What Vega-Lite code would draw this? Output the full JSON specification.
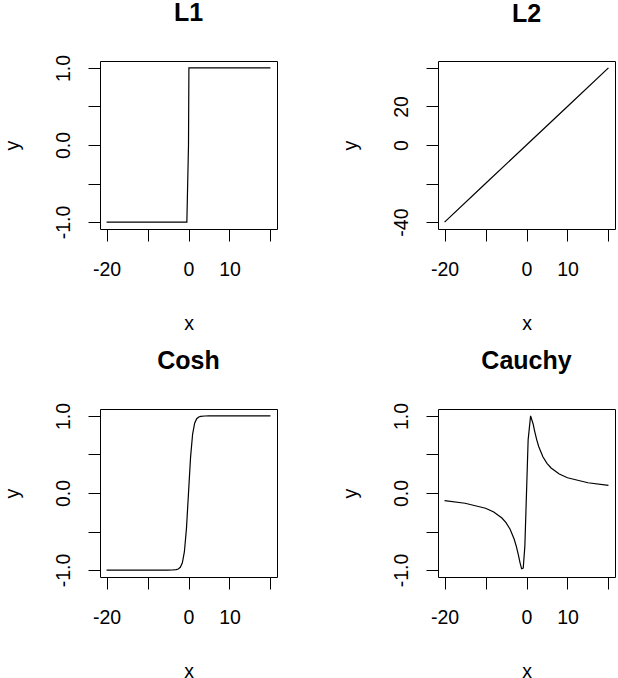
{
  "$schema": "https://vega.github.io/schema/vega-lite/v6.json",
  "padding": {"left": 1, "top": 0, "right": 0, "bottom": 0},
  "background": "white",
  "datasets": {
    "L1": [
      {"x": -20, "y": -1}, {"x": -0.4, "y": -1}, {"x": 0, "y": 0}, {"x": 0.1, "y": 1}, {"x": 20, "y": 1}
    ],
    "L2": [
      {"x": -20, "y": -40}, {"x": -10, "y": -20}, {"x": 0, "y": 0}, {"x": 10, "y": 20}, {"x": 20, "y": 40}
    ],
    "Cosh": [
      {"x": -20, "y": -1}, {"x": -10, "y": -1}, {"x": -5, "y": -0.9999}, {"x": -4, "y": -0.9993},
      {"x": -3, "y": -0.9951}, {"x": -2.5, "y": -0.9866}, {"x": -2, "y": -0.964}, {"x": -1.5, "y": -0.9051},
      {"x": -1, "y": -0.7616}, {"x": -0.5, "y": -0.4621}, {"x": 0, "y": 0}, {"x": 0.5, "y": 0.4621},
      {"x": 1, "y": 0.7616}, {"x": 1.5, "y": 0.9051}, {"x": 2, "y": 0.964}, {"x": 2.5, "y": 0.9866},
      {"x": 3, "y": 0.9951}, {"x": 4, "y": 0.9993}, {"x": 5, "y": 0.9999}, {"x": 10, "y": 1}, {"x": 20, "y": 1}
    ],
    "Cauchy": [
      {"x": -20, "y": -0.0998}, {"x": -15, "y": -0.1327}, {"x": -10, "y": -0.198}, {"x": -8, "y": -0.2462},
      {"x": -6, "y": -0.3243}, {"x": -5, "y": -0.3846}, {"x": -4, "y": -0.4706}, {"x": -3, "y": -0.6},
      {"x": -2.5, "y": -0.6897}, {"x": -2, "y": -0.8}, {"x": -1.6, "y": -0.8989}, {"x": -1.2, "y": -0.9836},
      {"x": -0.8, "y": -0.9756}, {"x": -0.4, "y": -0.6897}, {"x": 0, "y": 0}, {"x": 0.4, "y": 0.6897},
      {"x": 1, "y": 1}, {"x": 1.6, "y": 0.8989}, {"x": 2, "y": 0.8}, {"x": 2.5, "y": 0.6897},
      {"x": 3, "y": 0.6}, {"x": 4, "y": 0.4706}, {"x": 5, "y": 0.3846}, {"x": 6, "y": 0.3243},
      {"x": 8, "y": 0.2462}, {"x": 10, "y": 0.198}, {"x": 15, "y": 0.1327}, {"x": 20, "y": 0.0998}
    ]
  },
  "columns": 2,
  "spacing": {"row": 180, "column": 161},
  "bounds": "flush",
  "concat": [
    {
      "title": {"text": "L1", "offset": 28.2},
      "width": 177, "height": 168,
      "data": {"name": "L1"},
      "mark": {"type": "line", "color": "black", "strokeWidth": 1.2},
      "encoding": {
        "x": {"field": "x", "type": "quantitative", "scale": {"domain": [-21.6, 21.6], "nice": false, "zero": false},
          "axis": {"title": "x", "values": [-20, -10, 0, 10, 20], "titleX": 88.5, "titleY": 100,
            "labelExpr": "datum.value == -20 ? '-20' : datum.value == 0 ? '0' : datum.value == 10 ? '10' : ''"}},
        "y": {"field": "y", "type": "quantitative", "scale": {"domain": [-1.09, 1.09], "nice": false, "zero": false},
          "axis": {"title": "y", "values": [-1, -0.5, 0, 0.5, 1], "titleX": -82, "titleY": 84,
            "labelExpr": "datum.value == 1 ? '1.0' : datum.value == 0 ? '0.0' : datum.value == -1 ? '-1.0' : ''"}}
      }
    },
    {
      "title": {"text": "L2", "offset": 34.2},
      "width": 177, "height": 168,
      "data": {"name": "L2"},
      "mark": {"type": "line", "color": "black", "strokeWidth": 1.2},
      "encoding": {
        "x": {"field": "x", "type": "quantitative", "scale": {"domain": [-21.6, 21.6], "nice": false, "zero": false},
          "axis": {"title": "x", "values": [-20, -10, 0, 10, 20], "titleX": 88.5, "titleY": 100,
            "labelExpr": "datum.value == -20 ? '-20' : datum.value == 0 ? '0' : datum.value == 10 ? '10' : ''"}},
        "y": {"field": "y", "type": "quantitative", "scale": {"domain": [-43.6, 43.6], "nice": false, "zero": false},
          "axis": {"title": "y", "values": [-40, -20, 0, 20, 40], "titleX": -82, "titleY": 84,
            "labelExpr": "datum.value == 20 ? '20' : datum.value == 0 ? '0' : datum.value == -40 ? '-40' : ''"}}
      }
    },
    {
      "title": {"text": "Cosh", "offset": 28.2},
      "width": 177, "height": 168,
      "data": {"name": "Cosh"},
      "mark": {"type": "line", "color": "black", "strokeWidth": 1.2},
      "encoding": {
        "x": {"field": "x", "type": "quantitative", "scale": {"domain": [-21.6, 21.6], "nice": false, "zero": false},
          "axis": {"title": "x", "values": [-20, -10, 0, 10, 20], "titleX": 88.5, "titleY": 100,
            "labelExpr": "datum.value == -20 ? '-20' : datum.value == 0 ? '0' : datum.value == 10 ? '10' : ''"}},
        "y": {"field": "y", "type": "quantitative", "scale": {"domain": [-1.09, 1.09], "nice": false, "zero": false},
          "axis": {"title": "y", "values": [-1, -0.5, 0, 0.5, 1], "titleX": -82, "titleY": 84,
            "labelExpr": "datum.value == 1 ? '1.0' : datum.value == 0 ? '0.0' : datum.value == -1 ? '-1.0' : ''"}}
      }
    },
    {
      "title": {"text": "Cauchy", "offset": 28.2},
      "width": 177, "height": 168,
      "data": {"name": "Cauchy"},
      "mark": {"type": "line", "color": "black", "strokeWidth": 1.2},
      "encoding": {
        "x": {"field": "x", "type": "quantitative", "scale": {"domain": [-21.6, 21.6], "nice": false, "zero": false},
          "axis": {"title": "x", "values": [-20, -10, 0, 10, 20], "titleX": 88.5, "titleY": 100,
            "labelExpr": "datum.value == -20 ? '-20' : datum.value == 0 ? '0' : datum.value == 10 ? '10' : ''"}},
        "y": {"field": "y", "type": "quantitative", "scale": {"domain": [-1.09, 1.09], "nice": false, "zero": false},
          "axis": {"title": "y", "values": [-1, -0.5, 0, 0.5, 1], "titleX": -82, "titleY": 84,
            "labelExpr": "datum.value == 1 ? '1.0' : datum.value == 0 ? '0.0' : datum.value == -1 ? '-1.0' : ''"}}
      }
    }
  ],
  "config": {
    "font": "Liberation Sans",
    "view": {"stroke": "black", "strokeWidth": 1},
    "title": {"font": "Liberation Sans", "fontSize": 25, "fontWeight": "bold", "color": "black", "baseline": "alphabetic", "anchor": "middle", "frame": "group"},
    "axis": {
      "domain": false, "grid": false, "tickSize": 12, "tickColor": "black", "tickWidth": 1,
      "labelFont": "Liberation Sans", "labelFontSize": 19.5, "labelColor": "black",
      "titleFont": "Liberation Sans", "titleFontSize": 19.5, "titleFontWeight": "normal", "titleColor": "black",
      "labelFlush": false, "labelOverlap": false, "labelBound": false
    },
    "axisX": {"labelPadding": 19, "labelBaseline": "top", "labelAngle": 0, "labelAlign": "center", "titleBaseline": "alphabetic", "titleAlign": "center", "titleAngle": 0},
    "axisY": {"labelPadding": 18.6, "labelAngle": 270, "labelAlign": "center", "labelBaseline": "alphabetic", "titleAngle": 270, "titleBaseline": "alphabetic", "titleAlign": "center"}
  }
}
